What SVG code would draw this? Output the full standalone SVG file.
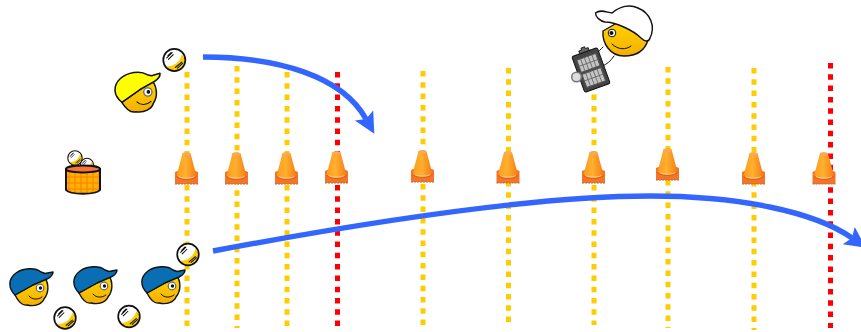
<svg xmlns="http://www.w3.org/2000/svg" xmlns:xlink="http://www.w3.org/1999/xlink" width="861" height="332" viewBox="0 0 861 332">
  <style>
    .lane { fill: none; stroke-width: 5; stroke-dasharray: 5.5 5.8; }
    .amber { stroke: #ffcc00; }
    .red { stroke: #ff0000; }
    .sweep { fill: none; stroke: #3366ff; stroke-width: 5.4; }
    .ink { stroke: #111; stroke-width: 1.4; stroke-linejoin: round; }
    .thin { fill: none; stroke: #111; stroke-width: 1; stroke-linecap: round; }
  </style>
  <defs>
    <linearGradient id="skin" x1="0" y1="0" x2="0" y2="1">
      <stop offset="0" stop-color="#ffd800"/>
      <stop offset="1" stop-color="#f5ae00"/>
    </linearGradient>
    <linearGradient id="coneBody" x1="0" y1="0" x2="1" y2="0">
      <stop offset="0" stop-color="#ff9a18"/>
      <stop offset="0.45" stop-color="#ffb030"/>
      <stop offset="1" stop-color="#f67c14"/>
    </linearGradient>
    <pattern id="weave" width="6" height="6" patternUnits="userSpaceOnUse">
      <rect width="6" height="6" fill="#ffb000"/>
      <path d="M0 3H3V0M3 6V3H6" fill="none" stroke="#f58000" stroke-width="1"/>
    </pattern>
    <!-- traffic cone, origin at the middle of its base -->
    <g id="cone">
      <path d="M-11.500 -12V0H11.500V-12L8 -13.500H-8Z" fill="#f4742a"/>
      <path d="M-4.200 -30C-4.800 -32 4.200 -32 4.200 -30L10 -8C7 -2.500 -7 -2.500 -10 -8Z" fill="url(#coneBody)"/>
      <ellipse cx="0" cy="-30" rx="4.200" ry="1.700" fill="#f9a860"/>
      <path d="M-10 -8C-6 -3.200 6 -3.200 10 -8" fill="none" stroke="#e06420" stroke-width="1.200"/>
      <path d="M-8 -7.500C-5 -5.500 5 -5.500 8 -7.500" fill="none" stroke="#ffd0a0" stroke-width="0.800"/>
      <path d="M-11.500 0H11.500" stroke="#b0703c" stroke-width="1" stroke-dasharray="2 1"/>
    </g>
    <!-- baseball, centred on the origin -->
    <g id="ball">
      <circle r="10.300" fill="#fff"/>
      <path d="M-7 6C-2 6 5 3 7 -5L10 -2C10 5 4 10 -1 10C-4 10 -6 8 -7 6Z" fill="#ffcc00"/>
      <circle r="10.300" fill="none" stroke="#111" stroke-width="1.600"/>
      <path d="M-7 -2L-2 -7M-5.500 -0.500L-1 -5M-6 -4L-3 -7" class="thin"/>
      <path d="M1 7L7 2M3 7.500L8 3" class="thin"/>
    </g>
    <!-- head with a cap, facing right; the cap colour comes from fill on the use -->
    <g id="head">
      <path d="M-15 8C-12 14 -8 19 -3 18C5 20 12 17 14 12C19 6 19 -3 15 -9L3 -2Z" fill="url(#skin)" class="ink"/>
      <path d="M-15 8C-22 1 -22 -8 -14 -14C-7 -19 5 -20 11 -15L15 -13.500L23 -15C23 -12 20 -9.500 17 -8L3 -2Z" class="ink"/>
      <circle cx="10" cy="1" r="3.800" fill="#fff" stroke="#666" stroke-width="1.200"/>
      <circle cx="10.500" cy="1" r="1.700" fill="#111"/>
      <path d="M-1 9C2 13 8 13 12 10" class="thin"/>
    </g>
    <marker id="tip" markerUnits="userSpaceOnUse" markerWidth="24" markerHeight="24" refX="4" refY="12" orient="auto" overflow="visible">
      <path d="M0 1.500L21 12L0 22.500L4 12Z" fill="#3366ff"/>
    </marker>
  </defs>

  <g id="lanes">
    <path class="lane amber" d="M187 72V328"/>
    <path class="lane amber" d="M237 66V328"/>
    <path class="lane amber" d="M287 72V326"/>
    <path class="lane red" d="M337.500 72V326"/>
    <path class="lane amber" d="M423 71V325"/>
    <path class="lane amber" d="M508.500 68V328"/>
    <path class="lane amber" d="M594 72V325"/>
    <path class="lane amber" d="M668 67V328"/>
    <path class="lane amber" d="M754 68V330"/>
    <path class="lane red" d="M830.500 63V328"/>
  </g>

  <g id="cones">
    <use href="#cone" x="186.500" y="184"/>
    <use href="#cone" x="236.500" y="184"/>
    <use href="#cone" x="286.500" y="184"/>
    <use href="#cone" x="336.500" y="183"/>
    <use href="#cone" x="422.500" y="182"/>
    <use href="#cone" x="508" y="183"/>
    <use href="#cone" x="593.500" y="183"/>
    <use href="#cone" x="667.500" y="180"/>
    <use href="#cone" x="753.500" y="184"/>
    <use href="#cone" x="824" y="184"/>
  </g>

  <g id="connectors">
    <path class="sweep" d="M203 57C278 57 342 76 366 119" marker-end="url(#tip)"/>
    <path class="sweep" d="M213 251C420 212 560 196 650 196C740 196 815 212 852 238" marker-end="url(#tip)"/>
  </g>

  <g id="batter">
    <use href="#head" transform="translate(137 92) rotate(-6) scale(1.080)" fill="#ffff00"/>
    <use href="#ball" transform="translate(174.300 60) scale(1.070)"/>
  </g>

  <g id="bucket">
    <use href="#ball" transform="translate(87 165) scale(0.650)"/>
    <use href="#ball" transform="translate(75 158) scale(0.700)"/>
    <path d="M66 169V190C70 195 96 195 100 190V169Z" fill="url(#weave)" stroke="#111" stroke-width="2"/>
    <ellipse cx="83" cy="169" rx="17" ry="3.500" fill="#f4743c" stroke="#111" stroke-width="1.800"/>
  </g>

  <g id="coach">
    <path d="M603 47C598 52 592 58 590 66C596 70 608 66 614 56" class="thin"/>
    <g transform="translate(591 70) rotate(-20)">
      <rect x="-13.500" y="-19" width="27" height="38" rx="2" fill="#444" stroke="#111" stroke-width="1"/>
      <rect x="-10" y="-14" width="20" height="13" fill="#c4c4c4" stroke="#555" stroke-width="1"/>
      <rect x="-10" y="1" width="20" height="14" fill="#c4c4c4" stroke="#555" stroke-width="1"/>
      <path d="M-6 -14V-1M-2 -14V-1M2 -14V-1M6 -14V-1M-6 1V15M-2 1V15M2 1V15M6 1V15M-10 -7.500H10M-10 8H10" stroke="#666" stroke-width="0.800"/>
      <path d="M-5 -19V-22H-2V-24H2V-22H5V-19Z" fill="#666" stroke="#111" stroke-width="0.800"/>
    </g>
    <circle cx="576.500" cy="77" r="4.800" fill="#ddd" stroke="#777" stroke-width="1.500"/>
    <path d="M603 31C602 43 610 56 624 56C638 56 645 50 648 40L622 20Z" fill="url(#skin)" class="ink"/>
    <path d="M595.500 13C600 9 606 12 612 13C620 6 630 4 638 8C650 13 656 26 650 38C649 42 645 42 641 38C633 30 615 22 605 22C600 21 595.500 17 595.500 13Z" fill="#fff" class="ink"/>
    <circle cx="612" cy="33" r="3.800" fill="#fff" stroke="#111" stroke-width="1"/>
    <circle cx="611.500" cy="33" r="2" fill="#111"/>
    <path d="M612 44C618 50 626 50 631 46" class="thin"/>
  </g>

  <g id="fielders">
    <use href="#head" transform="translate(30 287)" fill="#0a6eb4"/>
    <use href="#head" transform="translate(94 285)" fill="#0a6eb4"/>
    <use href="#head" transform="translate(162 285)" fill="#0a6eb4"/>
    <use href="#ball" transform="translate(65 318) scale(1.050)"/>
    <use href="#ball" transform="translate(129 316.500) scale(1.050)"/>
    <use href="#ball" transform="translate(188 254.500) scale(1.050)"/>
  </g>
</svg>
